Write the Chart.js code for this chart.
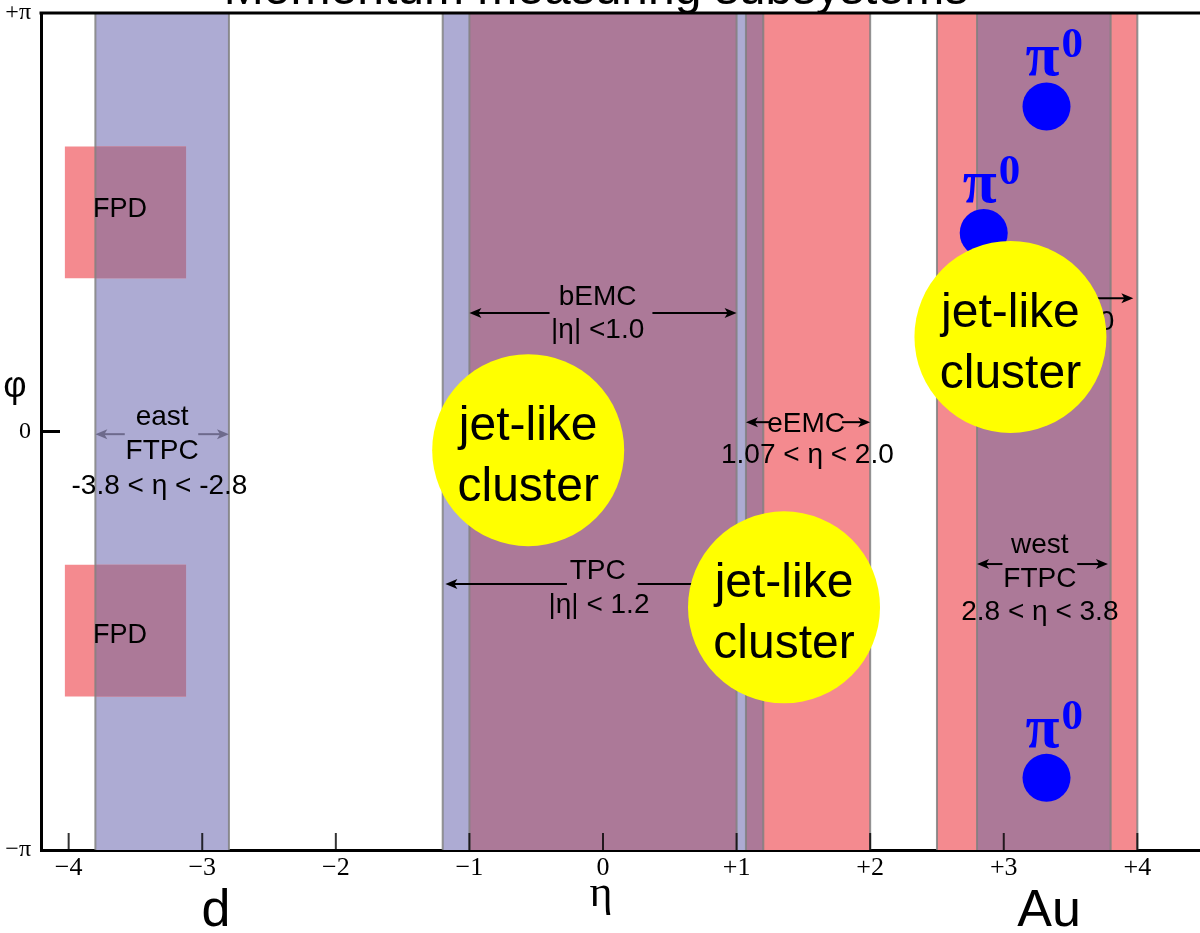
<!DOCTYPE html>
<html>
<head>
<meta charset="utf-8">
<script src="https://cdn.jsdelivr.net/npm/chart.js@4.4.0/dist/chart.umd.min.js"></script>
<style>
html, body { margin: 0; padding: 0; background: #fff; }
</style>
</head>
<body>
<canvas id="myChart" width="1200" height="933"></canvas>
<script>
const PI = Math.PI;

// Axes
const etaTicks = [-4, -3, -2, -1, 0, 1, 2, 3, 4];
const etaTickLabels = ['\u22124', '\u22123', '\u22122', '\u22121', '0', '+1', '+2', '+3', '+4'];
const phiTicks = [-PI, 0, PI];
const phiTickLabels = ['\u2212\u03c0', '0', '+\u03c0'];

// Acceptances en eta (couverture complete en phi)
const blueBands = [[-3.8, -2.8], [-1.2, 1.2], [2.8, 3.8]]; // east FTPC, TPC, west FTPC
const redBands = [[-1.0, 1.0], [1.07, 2.0], [2.5, 4.0]];   // bEMC, eEMC, forward
// FPD : une plage en eta, deux plages en phi
const fpdEta = [-4.03, -3.12];
const fpdPhi = [[1.15, 2.14], [-1.99, -1.0]];

// Clusters et pi0
const clusterEta = [-0.56, 1.355, 3.05];
const clusterPhi = [-0.14, -1.32, 0.71];
const pi0Eta = [3.32, 2.85, 3.32];
const pi0Phi = [2.44, 1.49, -2.60];

// Couleurs
const blue = '#adabd3';
const red = '#f48a8f';
const purple = '#ac7998';

// Annotations (texte et fleches, en coordonnees eta/phi)
const notes = [
    { text: 'east', eta: -3.30, phi: 0.05 },
    { text: 'FTPC', eta: -3.30, phi: -0.21 },
    { text: '-3.8 < \u03b7 < -2.8', eta: -3.32, phi: -0.47 },
    { text: 'bEMC', eta: -0.04, phi: 0.95 },
    { text: '|\u03b7| <1.0', eta: -0.04, phi: 0.70 },
    { text: 'eEMC', eta: 1.52, phi: 0.0 },
    { text: '1.07 < \u03b7 < 2.0', eta: 1.53, phi: -0.235 },
    { text: 'TPC', eta: -0.04, phi: -1.107 },
    { text: '|\u03b7| < 1.2', eta: -0.03, phi: -1.363 },
    { text: 'west', eta: 3.27, phi: -0.912 },
    { text: 'FTPC', eta: 3.27, phi: -1.167 },
    { text: '2.8 < \u03b7 < 3.8', eta: 3.27, phi: -1.415 },
    { text: 'FMS', eta: 3.24, phi: 0.99 },
    { text: '2.5 < \u03b7 < 4.0', eta: 3.24, phi: 0.762 },
    { text: 'FPD', eta: -3.615, phi: 1.61, size: 27 },
    { text: 'FPD', eta: -3.615, phi: -1.588, size: 27 }
];
const arrows = [
    { from: -3.58, to: -3.80, phi: -0.02, color: '#6d6a8c' },
    { from: -3.03, to: -2.80, phi: -0.02, color: '#6d6a8c' },
    { from: -0.40, to: -1.0, phi: 0.89 },
    { from: 0.37, to: 1.0, phi: 0.89 },
    { from: 1.25, to: 1.07, phi: 0.07 },
    { from: 1.79, to: 2.0, phi: 0.07 },
    { from: -0.27, to: -1.18, phi: -1.145 },
    { from: 0.26, to: 1.2, phi: -1.145 },
    { from: 2.99, to: 2.80, phi: -0.995 },
    { from: 3.55, to: 3.78, phi: -0.995 },
    { from: 2.90, to: 2.5, phi: 1.0 },
    { from: 3.53, to: 3.97, phi: 1.0 }
];

// Rectangles
const blueRects = blueBands.map(b => ({ x0: b[0], x1: b[1], y0: -PI, y1: PI }));
const redRects = redBands.map(b => ({ x0: b[0], x1: b[1], y0: -PI, y1: PI }))
    .concat(fpdPhi.map(p => ({ x0: fpdEta[0], x1: fpdEta[1], y0: p[0], y1: p[1] })));
const overlapRects = [];
blueRects.forEach(b => redRects.forEach(r => {
    const x0 = Math.max(b.x0, r.x0), x1 = Math.min(b.x1, r.x1);
    const y0 = Math.max(b.y0, r.y0), y1 = Math.min(b.y1, r.y1);
    if (x1 > x0 && y1 > y0) overlapRects.push({ x0, x1, y0, y1 });
}));

function rectDataset(r, color, order) {
    return {
        type: 'line',
        data: [{ x: r.x0, y: r.y1 }, { x: r.x1, y: r.y1 }],
        fill: { value: r.y0 },
        backgroundColor: color,
        borderWidth: 0,
        pointRadius: 0,
        order: order
    };
}

const datasets = [];
blueRects.forEach(r => datasets.push(rectDataset(r, blue, 10)));
redRects.forEach(r => datasets.push(rectDataset(r, red, 9)));
overlapRects.forEach(r => datasets.push(rectDataset(r, purple, 8)));

// Bords des bandes
const edgeData = [];
blueBands.concat(redBands).forEach(b => b.forEach(v => {
    edgeData.push({ x: v, y: -PI }, { x: v, y: PI }, { x: v, y: null });
}));
datasets.push({
    type: 'line', data: edgeData, borderColor: 'rgba(128,128,128,0.85)', borderWidth: 2,
    pointRadius: 0, fill: false, spanGaps: false, order: 7
});

const pi0Index = datasets.length;
datasets.push({
    type: 'line', showLine: false,
    data: pi0Eta.map((e, i) => ({ x: e, y: pi0Phi[i] })),
    pointRadius: 24, pointBackgroundColor: '#0000ff', pointBorderWidth: 0, order: 2
});
const clusterIndex = datasets.length;
datasets.push({
    type: 'line', showLine: false,
    data: clusterEta.map((e, i) => ({ x: e, y: clusterPhi[i] })),
    pointRadius: 96, pointBackgroundColor: '#ffff00', pointBorderWidth: 0, order: 1
});

function drawArrow(ctx, x0, x1, y, color) {
    const dir = Math.sign(x1 - x0);
    ctx.strokeStyle = color;
    ctx.fillStyle = color;
    ctx.lineWidth = 2;
    ctx.beginPath();
    ctx.moveTo(x0, y);
    ctx.lineTo(x1 - dir * 8, y);
    ctx.stroke();
    ctx.beginPath();
    ctx.moveTo(x1, y);
    ctx.lineTo(x1 - dir * 12, y - 5);
    ctx.lineTo(x1 - dir * 9, y);
    ctx.lineTo(x1 - dir * 12, y + 5);
    ctx.closePath();
    ctx.fill();
}

const overlayPlugin = {
    id: 'overlay',
    beforeDatasetDraw(chart, args) {
        if (args.index !== pi0Index) return;
        const ctx = chart.ctx, xs = chart.scales.x, ys = chart.scales.y, area = chart.chartArea;
        ctx.save();
        // graduations vers l'interieur
        ctx.strokeStyle = 'rgba(0,0,0,0.8)';
        ctx.lineWidth = 2;
        etaTicks.forEach(v => {
            const px = xs.getPixelForValue(v);
            ctx.beginPath();
            ctx.moveTo(px, area.bottom);
            ctx.lineTo(px, area.bottom - 17);
            ctx.stroke();
        });
        ctx.strokeStyle = '#000';
        ctx.lineWidth = 3;
        ctx.beginPath();
        ctx.moveTo(area.left, ys.getPixelForValue(0));
        ctx.lineTo(area.left + 19, ys.getPixelForValue(0));
        ctx.stroke();
        // fleches et textes
        arrows.forEach(a => drawArrow(ctx, xs.getPixelForValue(a.from), xs.getPixelForValue(a.to),
            ys.getPixelForValue(a.phi), a.color || '#000'));
        ctx.fillStyle = '#000';
        ctx.textAlign = 'center';
        ctx.textBaseline = 'alphabetic';
        notes.forEach(n => {
            ctx.font = (n.size || 28) + 'px "Liberation Sans", Arial, sans-serif';
            ctx.fillText(n.text, xs.getPixelForValue(n.eta), ys.getPixelForValue(n.phi));
        });
        ctx.restore();
    },
    afterDatasetDraw(chart, args) {
        const ctx = chart.ctx;
        const pts = args.meta.data;
        if (args.index === pi0Index) {
            ctx.save();
            ctx.fillStyle = '#0000ff';
            ctx.textAlign = 'left';
            ctx.textBaseline = 'alphabetic';
            pts.forEach(p => {
                ctx.font = 'bold 62px "Liberation Serif", serif';
                ctx.fillText('\u03c0', p.x - 21, p.y - 31);
                ctx.font = 'bold 43px "Liberation Serif", serif';
                ctx.fillText('0', p.x + 15, p.y - 49);
            });
            ctx.restore();
        }
        if (args.index === clusterIndex) {
            ctx.save();
            ctx.fillStyle = '#000';
            ctx.textAlign = 'center';
            ctx.textBaseline = 'alphabetic';
            ctx.font = '48px "Liberation Sans", Arial, sans-serif';
            pts.forEach(p => {
                ctx.fillText('jet-like', p.x, p.y - 10);
                ctx.fillText('cluster', p.x, p.y + 51);
            });
            ctx.restore();
        }
    },
    afterDraw(chart) {
        const ctx = chart.ctx, area = chart.chartArea;
        ctx.save();
        ctx.strokeStyle = '#000';
        ctx.lineWidth = 3;
        ctx.beginPath();
        ctx.moveTo(area.left - 1.5, area.top);
        ctx.lineTo(chart.width, area.top);
        ctx.stroke();
        ctx.fillStyle = '#000';
        ctx.textAlign = 'center';
        ctx.textBaseline = 'alphabetic';
        ctx.font = '48px "Liberation Sans", Arial, sans-serif';
        ctx.fillText('Momentum measuring subsystems', 596, 4);
        ctx.font = '52px "Liberation Sans", Arial, sans-serif';
        ctx.fillText('d', 216, 926);
        ctx.fillText('Au', 1049, 926);
        ctx.font = '44px "Liberation Serif", serif';
        ctx.fillText('\u03b7', 601, 906);
        ctx.font = '36px "Liberation Sans", Arial, sans-serif';
        ctx.fillText('\u03c6', 15, 397);
        ctx.restore();
    }
};

const ctx = document.getElementById('myChart').getContext('2d');
const myChart = new Chart(ctx, {
    type: 'line',
    data: { datasets: datasets },
    options: {
        responsive: false,
        animation: false,
        events: [],
        layout: { autoPadding: false, padding: { top: 13, left: 0, right: 0, bottom: 0 } },
        plugins: { legend: { display: false }, tooltip: { enabled: false }, title: { display: false } },
        scales: {
            x: {
                type: 'linear',
                min: -4.207,
                max: 4.469,
                afterBuildTicks: s => { s.ticks = etaTicks.map(v => ({ value: v })); },
                afterFit: s => { s.height = 83; s.paddingLeft = 0; s.paddingRight = 0; },
                grid: { display: false, drawTicks: false },
                border: { display: true, color: '#000', width: 3 },
                ticks: {
                    callback: (v, i) => etaTickLabels[i],
                    font: { family: '"Liberation Serif", serif', size: 26, lineHeight: 1 },
                    color: '#000', padding: 5, maxRotation: 0, autoSkip: false
                }
            },
            y: {
                type: 'linear',
                min: -PI,
                max: PI,
                afterBuildTicks: s => { s.ticks = phiTicks.map(v => ({ value: v })); },
                afterFit: s => { s.width = 41; s.paddingTop = 0; s.paddingBottom = 0; },
                grid: { display: false, drawTicks: false },
                border: { display: true, color: '#000', width: 3 },
                ticks: {
                    callback: (v, i) => phiTickLabels[i],
                    font: { family: '"Liberation Serif", serif', size: 24, lineHeight: 1 },
                    color: '#000', padding: 10, autoSkip: false
                }
            }
        }
    },
    plugins: [overlayPlugin]
});
</script>
</body>
</html>
